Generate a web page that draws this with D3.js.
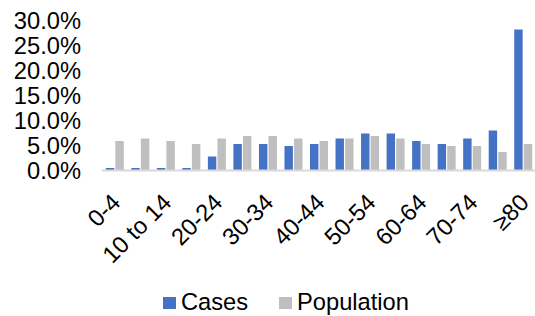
<!DOCTYPE html>
<html>
<head>
<meta charset="utf-8">
<style>
  body { margin: 0; background: #fff; }
  text { font-family: "Liberation Sans", Arial, sans-serif; fill: #000; }
</style>
</head>
<body>
<svg width="535" height="316"></svg>
<script src="https://d3js.org/d3.v7.min.js"></script>
<script>

var ageGroups = ["0-4", "5-9", "10 to 14", "15-19", "20-24", "25-29", "30-34", "35-39",
                 "40-44", "45-49", "50-54", "55-59", "60-64", "65-69", "70-74", "75-79", "\u226580"];
var cases      = [0.4, 0.4, 0.4, 0.4, 2.7, 5.2, 5.2, 4.8, 5.2, 6.3, 7.3, 7.3, 5.8, 5.2, 6.3, 7.9, 28.1];
var population = [5.8, 6.3, 5.8, 5.2, 6.3, 6.8, 6.8, 6.3, 5.8, 6.3, 6.8, 6.3, 5.2, 4.8, 4.8, 3.6, 5.2];
var yTicks = [0, 5, 10, 15, 20, 25, 30];
var seriesNames = ["Cases", "Population"];
var seriesColors = ["#4472C4", "#BFBFBF"];

var svg = d3.select("svg");
var fontSize = "23.7px";

var x = d3.scaleBand()
    .domain(ageGroups)
    .range([102, 536]);

var y = d3.scaleLinear()
    .domain([0, 30])
    .range([170, 20]);

var inner = d3.scaleBand()
    .domain(seriesNames)
    .range([0, 18])
    .paddingInner(0.12);

var offset = (x.bandwidth() - 18) / 2;

var rows = ageGroups.map(function(g, i) {
  return { group: g, values: [cases[i], population[i]] };
});

// y labels (no axis line)
svg.append("g")
  .selectAll("text")
  .data(yTicks)
  .enter().append("text")
    .attr("x", 81)
    .attr("y", function(d) { return y(d); })
    .attr("dy", "0.36em")
    .attr("text-anchor", "end")
    .style("font-size", fontSize)
    .text(function(d) { return d.toFixed(1) + "%"; });

// bars
var groups = svg.append("g")
  .selectAll("g")
  .data(rows)
  .enter().append("g")
    .attr("transform", function(d) { return "translate(" + (x(d.group) + offset) + ",0)"; });

groups.selectAll("rect")
  .data(function(d) { return d.values.map(function(v, k) { return { name: seriesNames[k], v: v, k: k }; }); })
  .enter().append("rect")
    .attr("x", function(d) { return inner(d.name); })
    .attr("width", inner.bandwidth())
    .attr("y", function(d) { return y(d.v); })
    .attr("height", function(d) { return y(0) - y(d.v); })
    .attr("fill", function(d) { return seriesColors[d.k]; });

// x axis line
svg.append("line")
    .attr("x1", x.range()[0])
    .attr("x2", x.range()[1])
    .attr("y1", y(0) + 0.5)
    .attr("y2", y(0) + 0.5)
    .attr("stroke", "#D9D9D9")
    .attr("stroke-width", 2);

// x labels, every other one
svg.append("g")
  .selectAll("text")
  .data(ageGroups.filter(function(d, i) { return i % 2 === 0; }))
  .enter().append("text")
    .attr("text-anchor", "end")
    .attr("transform", function(d) {
      return "translate(" + (x(d) + x.bandwidth() / 2 + 7) + ",204) rotate(-45)";
    })
    .style("font-size", fontSize)
    .text(function(d) { return d; });

// legend
var legendPos = [163, 279];
var legend = svg.append("g")
  .selectAll("g")
  .data(seriesNames)
  .enter().append("g")
    .attr("transform", function(d, i) { return "translate(" + legendPos[i] + ",297)"; });

legend.append("rect")
    .attr("width", 13)
    .attr("height", 12)
    .attr("fill", function(d, i) { return seriesColors[i]; });

legend.append("text")
    .attr("x", 18)
    .attr("y", 13)
    .style("font-size", fontSize)
    .text(function(d) { return d; });

</script>
</body>
</html>
